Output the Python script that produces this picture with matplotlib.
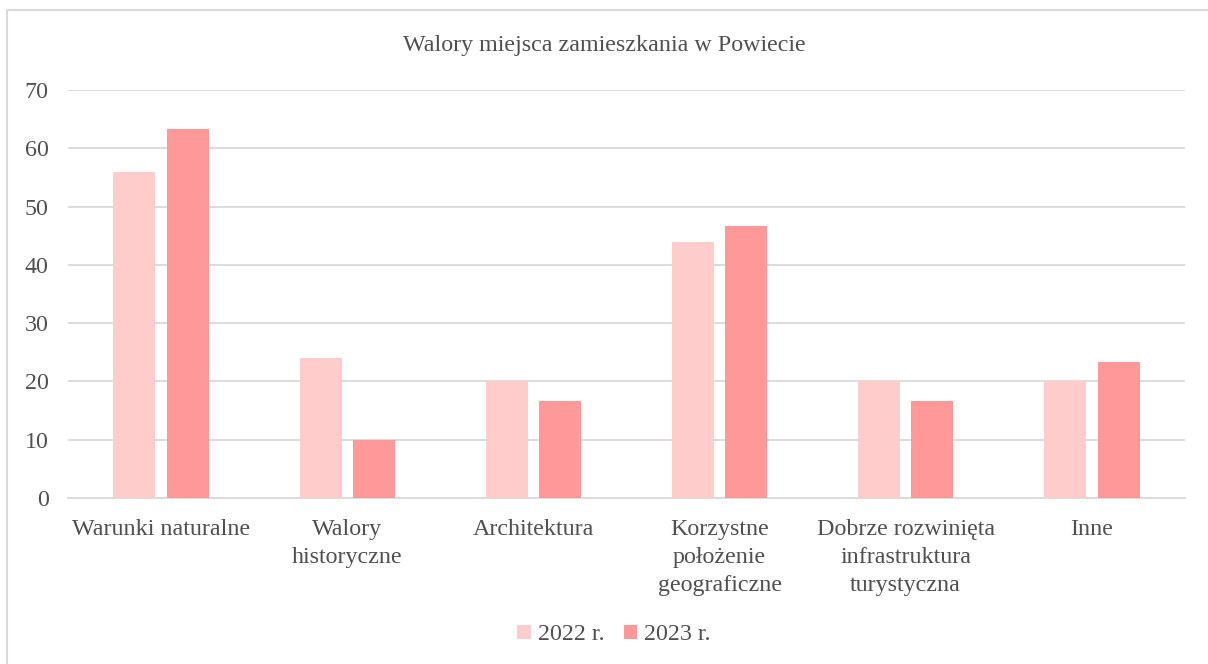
import matplotlib
matplotlib.use("Agg")
import matplotlib.pyplot as plt
import numpy as np
from matplotlib.lines import Line2D

categories = ["Warunki naturalne", "Walory\nhistoryczne", "Architektura",
              "Korzystne\npołożenie\ngeograficzne", "Dobrze rozwinięta\ninfrastruktura\nturystyczna", "Inne"]
series_names = ["2022 r.", "2023 r."]
values_2022 = [56, 24, 20, 44, 20, 20]
values_2023 = [63.3, 10, 16.7, 46.7, 16.7, 23.3]
colors = ["#FFCCCC", "#FF9999"]

plt.rcParams['font.family'] = ['Liberation Serif', 'DejaVu Serif']
FS = 17.3
TC = "#505050"
W, H = 1208, 664

fig = plt.figure(figsize=(W/100, H/100), dpi=100)
ax = fig.add_axes([68/W, 1-498/H, (1185-68)/W, (498-90)/H])

x = np.arange(len(categories))
w = 0.226
off = 0.143
ax.bar(x - off, values_2022, w, color=colors[0], label=series_names[0], zorder=3)
ax.bar(x + off, values_2023, w, color=colors[1], label=series_names[1], zorder=3)

ax.set_xlim(-0.5, len(categories) - 0.5)
ax.set_ylim(0, 70)
ax.set_yticks(range(0, 71, 10))
ax.yaxis.grid(True, color="#D9D9D9", linewidth=1.3, zorder=0)
ax.set_axisbelow(True)
for s in ["top", "right", "left"]:
    ax.spines[s].set_visible(False)
ax.spines["bottom"].set_color("#D9D9D9")
ax.spines["bottom"].set_linewidth(1.3)
ax.tick_params(axis="both", length=0, labelsize=FS, colors=TC)
ax.tick_params(axis="y", pad=14)
ax.tick_params(axis="x", pad=15)
ax.set_xticks(x)
ax.set_xticklabels(categories, linespacing=1.45)

fig.text(0.5, 1-45/H, "Walory miejsca zamieszkania w Powiecie", ha="center", va="center",
         fontsize=FS, color=TC)

leg = fig.legend(loc="center", bbox_to_anchor=(614/W, 1-635/H), ncol=2, frameon=False,
                 fontsize=FS, handlelength=0.55, handleheight=0.55, handletextpad=0.3, columnspacing=0.8)
for t in leg.get_texts():
    t.set_color(TC)

# outer chart border (only top and left visible in reference)
fig.add_artist(Line2D([6.5/W, 6.5/W], [0, 1-9.5/H], transform=fig.transFigure, color="#D9D9D9", linewidth=1.5))
fig.add_artist(Line2D([6.5/W, 1], [1-9.5/H, 1-9.5/H], transform=fig.transFigure, color="#D9D9D9", linewidth=1.5))

fig.savefig("out.png", dpi=100)
